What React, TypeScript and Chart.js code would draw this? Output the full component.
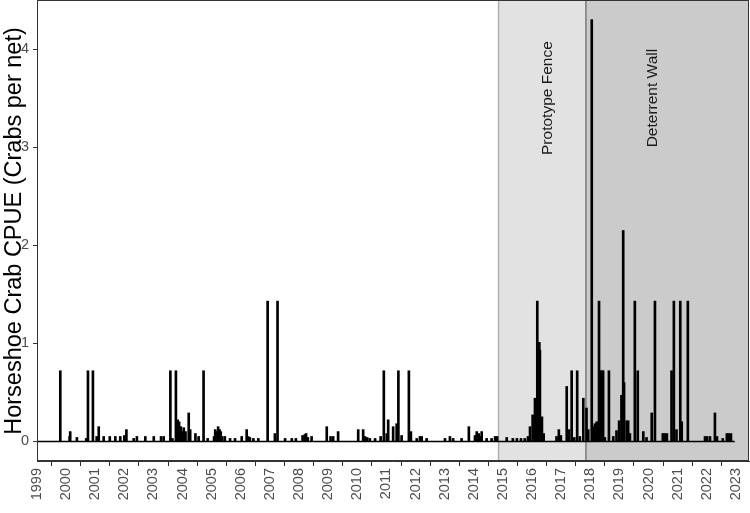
import React, { useEffect, useRef } from "react";
import { Chart, registerables } from "chart.js";

Chart.register(...registerables);

// ---- data (decimal year, CPUE) ----
const spikeYears = [
  1999.80, 2000.12, 2000.14, 2000.37, 2000.69, 2000.75, 2000.92, 2001.05, 2001.12, 2001.29,
  2001.50, 2001.69, 2001.86, 2002.00, 2002.07, 2002.32, 2002.43, 2002.72, 2003.01, 2003.26,
  2003.35, 2003.58, 2003.65, 2003.77, 2003.83, 2003.88, 2003.94, 2003.99, 2004.04, 2004.10,
  2004.21, 2004.26, 2004.44, 2004.55, 2004.72, 2004.86, 2005.08, 2005.12, 2005.17, 2005.22,
  2005.27, 2005.31, 2005.36, 2005.45, 2005.63, 2005.80, 2006.03, 2006.20, 2006.25, 2006.31,
  2006.43, 2006.60, 2006.92, 2007.17, 2007.26, 2007.52, 2007.75, 2007.89, 2008.12, 2008.20,
  2008.24, 2008.30, 2008.43, 2008.95, 2009.08, 2009.17, 2009.34, 2010.03, 2010.20, 2010.26,
  2010.34, 2010.43, 2010.61, 2010.80, 2010.91, 2011.01, 2011.06, 2011.23, 2011.35, 2011.41,
  2011.52, 2011.77, 2011.84, 2012.04, 2012.15, 2012.21, 2012.38, 2013.01, 2013.18, 2013.29,
  2013.58, 2013.83, 2014.04, 2014.10, 2014.17, 2014.21, 2014.27, 2014.44, 2014.61, 2014.73,
  2014.80, 2015.13, 2015.34, 2015.48, 2015.62, 2015.75, 2015.86, 2015.93, 2016.02, 2016.10,
  2016.18, 2016.25, 2016.27, 2016.34, 2016.40, 2016.84, 2016.92, 2016.99, 2017.19, 2017.27,
  2017.36, 2017.45, 2017.55, 2017.64, 2017.76, 2017.87, 2017.93, 2018.05, 2018.10, 2018.16,
  2018.22, 2018.30, 2018.35, 2018.40, 2018.44, 2018.50, 2018.64, 2018.79, 2018.90, 2018.99,
  2019.07, 2019.13, 2019.16, 2019.25, 2019.30, 2019.36, 2019.53, 2019.63, 2019.82, 2019.93,
  2020.11, 2020.22, 2020.49, 2020.56, 2020.63, 2020.79, 2020.87, 2020.96, 2021.09, 2021.14,
  2021.35, 2021.94, 2022.01, 2022.11, 2022.28, 2022.35, 2022.55, 2022.69, 2022.76, 2022.83,
];
const spikeValues = [
  0.72, 0.05, 0.10, 0.04, 0.03, 0.72, 0.72, 0.05, 0.15, 0.05,
  0.05, 0.05, 0.05, 0.06, 0.12, 0.03, 0.05, 0.05, 0.05, 0.05,
  0.05, 0.72, 0.03, 0.72, 0.22, 0.20, 0.15, 0.10, 0.14, 0.10,
  0.29, 0.12, 0.08, 0.05, 0.72, 0.03, 0.05, 0.12, 0.10, 0.15,
  0.12, 0.10, 0.05, 0.05, 0.03, 0.03, 0.05, 0.12, 0.05, 0.04,
  0.03, 0.03, 1.43, 0.08, 1.43, 0.03, 0.03, 0.03, 0.06, 0.07,
  0.08, 0.04, 0.05, 0.15, 0.05, 0.05, 0.10, 0.12, 0.12, 0.05,
  0.04, 0.03, 0.03, 0.05, 0.72, 0.08, 0.22, 0.15, 0.18, 0.72,
  0.06, 0.72, 0.10, 0.03, 0.05, 0.05, 0.03, 0.03, 0.05, 0.03,
  0.03, 0.15, 0.06, 0.10, 0.08, 0.05, 0.10, 0.03, 0.03, 0.05,
  0.05, 0.04, 0.03, 0.03, 0.03, 0.03, 0.05, 0.15, 0.27, 0.44,
  1.43, 1.01, 0.93, 0.25, 0.08, 0.05, 0.12, 0.06, 0.56, 0.12,
  0.72, 0.04, 0.72, 0.05, 0.44, 0.34, 0.12, 4.30, 0.15, 0.18,
  0.20, 1.43, 0.72, 0.72, 0.72, 0.04, 0.72, 0.05, 0.11, 0.21,
  0.47, 2.15, 0.60, 0.21, 0.21, 0.08, 1.43, 0.72, 0.10, 0.04,
  0.29, 1.43, 0.08, 0.08, 0.08, 0.72, 1.43, 0.12, 1.43, 0.20,
  1.43, 0.05, 0.05, 0.05, 0.29, 0.05, 0.03, 0.08, 0.08, 0.08,
];
const samplingSpan = [1999.0, 2022.96];

const xTickYears = [
  1999, 2000, 2001, 2002, 2003, 2004, 2005, 2006, 2007, 2008, 2009, 2010,
  2011, 2012, 2013, 2014, 2015, 2016, 2017, 2018, 2019, 2020, 2021, 2022, 2023,
];
const yTicks = [0, 1, 2, 3, 4];
const xRange = [1999, 2023.45];
const yRange = [-0.2, 4.49];

const periodStarts = [2014.85, 2017.85];
const periodNames = ["Prototype Fence", "Deterrent Wall"];
const periodLabelX = [2016.55, 2020.15];
const periodLabelY = 3.5;
const yTitle = "Horseshoe Crab CPUE (Crabs per net)";

const FONT = "'Liberation Sans', Arial, Helvetica, sans-serif";

const periodsPlugin = {
  id: "periods",
  beforeDraw(chart: any) {
    const { ctx, chartArea: a, scales } = chart;
    const xs = scales.x;
    const ys = scales.y;
    const p0 = xs.getPixelForValue(periodStarts[0]);
    const p1 = xs.getPixelForValue(periodStarts[1]);
    ctx.save();
    ctx.fillStyle = "#e2e2e2";
    ctx.fillRect(p0, a.top, p1 - p0, a.bottom - a.top);
    ctx.fillStyle = "#cbcbcb";
    ctx.fillRect(p1, a.top, a.right - p1, a.bottom - a.top);
    ctx.lineWidth = 1.5;
    ctx.strokeStyle = "#b0b0b0";
    ctx.beginPath();
    ctx.moveTo(p0, a.top);
    ctx.lineTo(p0, a.bottom);
    ctx.stroke();
    ctx.strokeStyle = "#7a7a7a";
    ctx.beginPath();
    ctx.moveTo(p1, a.top);
    ctx.lineTo(p1, a.bottom);
    ctx.stroke();
    ctx.fillStyle = "#1a1a1a";
    ctx.font = `15.5px ${FONT}`;
    ctx.textAlign = "center";
    ctx.textBaseline = "middle";
    periodNames.forEach((name, i) => {
      const px = xs.getPixelForValue(periodLabelX[i]);
      const py = ys.getPixelForValue(periodLabelY);
      ctx.save();
      ctx.translate(px, py);
      ctx.rotate(-Math.PI / 2);
      ctx.fillText(name, 0, 0);
      ctx.restore();
    });
    ctx.restore();
  },
  afterDraw(chart: any) {
    const { ctx, chartArea: a } = chart;
    ctx.save();
    ctx.strokeStyle = "#333333";
    ctx.lineWidth = 1;
    ctx.strokeRect(a.left + 0.5, a.top - 0.5, a.right - a.left - 1, a.bottom - a.top);
    ctx.restore();
  },
};

export default function App() {
  const canvasRef = useRef<HTMLCanvasElement | null>(null);

  useEffect(() => {
    document.body.style.margin = "0";
    const canvas = canvasRef.current;
    if (!canvas) return;
    const spikes = spikeYears.map((x, i) => ({ x, y: spikeValues[i] }));
    const baseline = samplingSpan.map((x) => ({ x, y: 0 }));

    const chart = new Chart(canvas, {
      type: "bar",
      data: {
        datasets: [
          {
            type: "line",
            data: baseline,
            borderColor: "#000000",
            borderWidth: 1.5,
            pointRadius: 0,
            order: 2,
          } as any,
          {
            type: "bar",
            data: spikes,
            backgroundColor: "#000000",
            barThickness: 2,
            grouped: false,
            order: 1,
          } as any,
        ],
      },
      plugins: [periodsPlugin],
      options: {
        responsive: false,
        animation: false,
        events: [],
        devicePixelRatio: 1,
        layout: { padding: { top: 1, right: 1, left: 0, bottom: 0 } },
        plugins: {
          legend: { display: false },
          tooltip: { enabled: false },
        },
        scales: {
          x: {
            type: "linear",
            offset: false,
            min: xRange[0],
            max: xRange[1],
            afterBuildTicks: (s: any) => {
              s.ticks = xTickYears.map((v) => ({ value: v }));
            },
            afterFit: (s: any) => {
              s.height = 52;
              s.paddingLeft = 0;
              s.paddingRight = 0;
            },
            grid: {
              display: true,
              drawOnChartArea: false,
              drawTicks: true,
              tickLength: 5,
              color: "#333333",
              lineWidth: 1,
            },
            border: { display: true, color: "#333333", width: 1 },
            ticks: {
              autoSkip: false,
              minRotation: 90,
              maxRotation: 90,
              padding: 2,
              color: "#4d4d4d",
              font: { family: FONT, size: 14.5 },
              callback: (v: any) => String(v),
            },
          },
          y: {
            type: "linear",
            min: yRange[0],
            max: yRange[1],
            afterBuildTicks: (s: any) => {
              s.ticks = yTicks.map((v) => ({ value: v }));
            },
            afterFit: (s: any) => {
              s.width = 37;
              s.paddingTop = 0;
              s.paddingBottom = 0;
            },
            grid: {
              display: true,
              drawOnChartArea: false,
              drawTicks: true,
              tickLength: 4,
              color: "#333333",
              lineWidth: 1,
            },
            border: { display: true, color: "#333333", width: 1 },
            ticks: {
              padding: 4,
              color: "#4d4d4d",
              font: { family: FONT, size: 14.5 },
              callback: (v: any) => String(v),
            },
            title: {
              display: true,
              text: yTitle,
              color: "#000000",
              font: { family: FONT, size: 23.5 },
              padding: { top: 0, bottom: 0 },
            },
          },
        },
      } as any,
    });
    return () => chart.destroy();
  }, []);

  return (
    <div style={{ position: "absolute", left: 0, top: 0, width: 750, height: 513, background: "#ffffff" }}>
      <canvas ref={canvasRef} width={750} height={513} style={{ display: "block" }} />
    </div>
  );
}
